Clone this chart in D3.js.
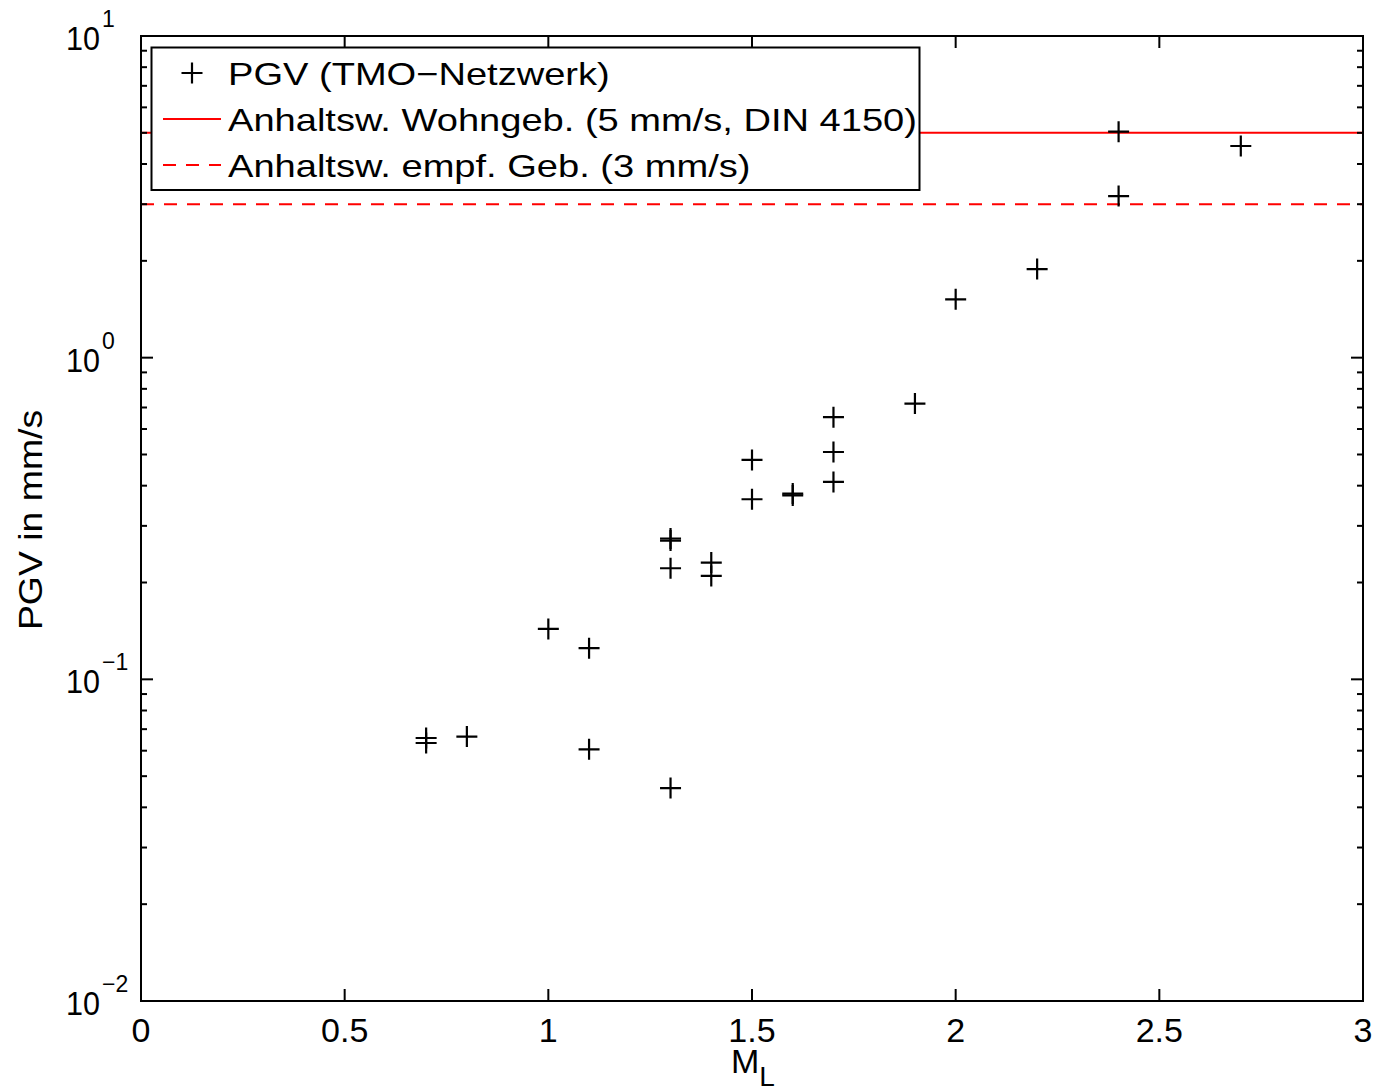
<!DOCTYPE html>
<html>
<head>
<meta charset="utf-8">
<script src="https://cdn.jsdelivr.net/npm/d3@7"></script>
<style>
  body { margin: 0; background: #fff; }
  svg { font-family: "Liberation Sans", Arial, sans-serif; }
</style>
</head>
<body>
<svg id="chart" width="1375" height="1091"></svg>
<script>
// magnitude (M_L) and PGV in mm/s
var magnitudes = [0.7, 0.7, 0.8, 1.0, 1.1, 1.1, 1.3, 1.3, 1.3, 1.3, 1.4, 1.4,
                  1.5, 1.5, 1.6, 1.6, 1.7, 1.7, 1.7, 1.9, 2.0, 2.2, 2.4, 2.4, 2.7];
var pgvValues = [0.0657, 0.0634, 0.0664, 0.1435, 0.125, 0.0606, 0.0459, 0.2215, 0.270, 0.274, 0.2306, 0.2096,
                 0.481, 0.363, 0.373, 0.378, 0.653, 0.509, 0.411, 0.720, 1.518, 1.886, 5.04, 3.18, 4.55];
var thresholds = [5, 3];
var legendLabels = ["PGV (TMO\u2212Netzwerk)",
                    "Anhaltsw. Wohngeb. (5 mm/s, DIN 4150)",
                    "Anhaltsw. empf. Geb. (3 mm/s)"];
var xTicks = [0, 0.5, 1, 1.5, 2, 2.5, 3];
var yDecades = [-2, -1, 0, 1];

function drawChart() {
    var svg = d3.select("#chart");
    var pLeft = 141, pRight = 1363, pTop = 36, pBottom = 1001;

    var x = d3.scaleLinear().domain([0, 3]).range([pLeft, pRight]);
    var y = d3.scaleLog().domain([0.01, 10]).range([pBottom, pTop]);

    // threshold lines
    svg.selectAll("line.thr")
        .data(thresholds)
        .enter().append("line")
        .attr("class", "thr")
        .attr("x1", x(0)).attr("x2", x(3))
        .attr("y1", function(d) { return y(d); })
        .attr("y2", function(d) { return y(d); })
        .attr("stroke", "#ff0000")
        .attr("stroke-width", 2)
        .attr("stroke-dasharray", function(d, i) { return i == 1 ? "13,10" : null; });

    // ticks: major on decades, minor 2..9
    var minor = [];
    yDecades.slice(0, 3).forEach(function(e) {
        for (var k = 2; k <= 9; k++) minor.push(k * Math.pow(10, e));
    });

    var axes = svg.append("g").attr("stroke", "#000").attr("stroke-width", 2);
    xTicks.forEach(function(t) {
        axes.append("line").attr("x1", x(t)).attr("x2", x(t)).attr("y1", pBottom).attr("y2", pBottom - 12);
        axes.append("line").attr("x1", x(t)).attr("x2", x(t)).attr("y1", pTop).attr("y2", pTop + 12);
    });
    yDecades.forEach(function(e) {
        var v = Math.pow(10, e);
        axes.append("line").attr("x1", pLeft).attr("x2", pLeft + 12).attr("y1", y(v)).attr("y2", y(v));
        axes.append("line").attr("x1", pRight).attr("x2", pRight - 12).attr("y1", y(v)).attr("y2", y(v));
    });
    minor.forEach(function(v) {
        axes.append("line").attr("x1", pLeft).attr("x2", pLeft + 6).attr("y1", y(v)).attr("y2", y(v));
        axes.append("line").attr("x1", pRight).attr("x2", pRight - 6).attr("y1", y(v)).attr("y2", y(v));
    });
    axes.append("rect")
        .attr("x", pLeft).attr("y", pTop)
        .attr("width", pRight - pLeft).attr("height", pBottom - pTop)
        .attr("fill", "none");

    // data points as plus markers
    var plusPath = "M-10.5,0H10.5M0,-10.5V10.5";
    svg.append("g").selectAll("path")
        .data(magnitudes)
        .enter().append("path")
        .attr("d", plusPath)
        .attr("transform", function(d, i) { return "translate(" + x(d) + "," + y(pgvValues[i]) + ")"; })
        .attr("stroke", "#000")
        .attr("stroke-width", 2.2)
        .attr("fill", "none");

    // tick labels
    svg.append("g").selectAll("text")
        .data(xTicks)
        .enter().append("text")
        .attr("x", function(d) { return x(d); })
        .attr("y", 1042)
        .attr("text-anchor", "middle")
        .attr("font-size", 34)
        .text(function(d) { return d; });

    var yl = svg.append("g").selectAll("g")
        .data(yDecades)
        .enter().append("g")
        .attr("transform", function(d) { return "translate(0," + y(Math.pow(10, d)) + ")"; });
    yl.append("text")
        .attr("x", 100).attr("y", 14)
        .attr("text-anchor", "end")
        .attr("font-size", 34)
        .attr("textLength", 34)
        .attr("lengthAdjust", "spacingAndGlyphs")
        .text("10");
    yl.append("text")
        .attr("x", 102).attr("y", -9)
        .attr("font-size", 23)
        .text(function(d) { return d < 0 ? "\u2212" + (-d) : d; });

    // axis titles
    var xt = svg.append("text")
        .attr("x", 731).attr("y", 1073)
        .attr("font-size", 34);
    xt.append("tspan").text("M");
    xt.append("tspan").attr("dy", 13).attr("font-size", 28).text("L");

    svg.append("text")
        .attr("transform", "translate(42,520) rotate(-90) scale(1.1,1)")
        .attr("text-anchor", "middle")
        .attr("font-size", 34)
        .text("PGV in mm/s");

    // legend
    var lg = svg.append("g");
    lg.append("rect")
        .attr("x", 151.5).attr("y", 47.5)
        .attr("width", 768).attr("height", 142.5)
        .attr("fill", "#fff").attr("stroke", "#000").attr("stroke-width", 2);
    var rowY = [73, 119, 165];
    lg.append("path")
        .attr("d", plusPath)
        .attr("transform", "translate(192," + rowY[0] + ")")
        .attr("stroke", "#000").attr("stroke-width", 2.2);
    lg.selectAll("line.sample")
        .data(thresholds)
        .enter().append("line")
        .attr("class", "sample")
        .attr("x1", 163).attr("x2", 221)
        .attr("y1", function(d, i) { return rowY[i + 1]; })
        .attr("y2", function(d, i) { return rowY[i + 1]; })
        .attr("stroke", "#ff0000").attr("stroke-width", 2)
        .attr("stroke-dasharray", function(d, i) { return i == 1 ? "13,10" : null; });
    lg.selectAll("text")
        .data(legendLabels)
        .enter().append("text")
        .attr("transform", function(d, i) { return "translate(228," + (rowY[i] + 12) + ") scale(1.19,1)"; })
        .attr("font-size", 32)
        .text(function(d) { return d; });
}

drawChart();
</script>
</body>
</html>
